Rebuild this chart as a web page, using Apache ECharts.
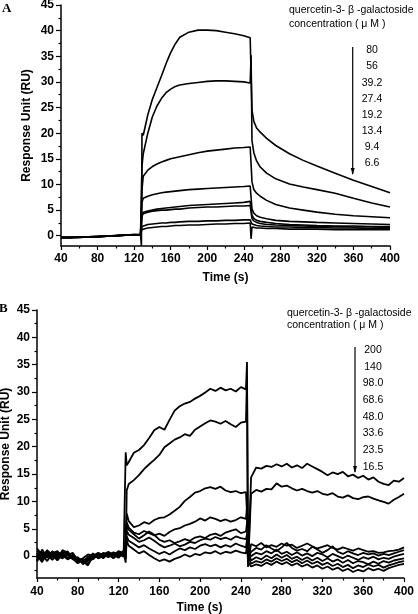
<!DOCTYPE html>
<html><head><meta charset="utf-8">
<script src="https://cdn.jsdelivr.net/npm/echarts@6/dist/echarts.min.js"></script>
<style>html,body{margin:0;padding:0;background:#fff}#c{width:418px;height:614px}</style>
</head><body><div id="c"></div>
<script>
// ---------- Panel A data ----------
const timeA = [40,50,60,70,80,90,100,110,120,127,128,128.6,130,135,140,145,150,155,160,165,170,180,190,200,210,220,230,240,247,248,249,251,254,258,265,275,290,305,320,340,360,380,400];
const a80 = [-0.4,-0.4,-0.3,-0.3,-0.2,-0.1,0.0,0.1,0.2, 0.2,-2.0,20.0, 19.6,23.6,26.6,28.9,31.2,33.6,35.7,37.4,38.7, 39.7,40.1,40.1,40.0,39.7,39.4,39.0, 38.6,38.4,24.5, 22.3,21.0,20.2,19.0,17.6, 16.0,14.7,13.6,12.2,10.8,9.6,8.4];
const a56 = [-0.3,-0.4,-0.3,-0.2,-0.2,-0.1,0.0,0.1,0.2, 0.2,0.5,13.5, 16.0,20.0,23.2,25.3,26.8,27.9,28.6,29.1,29.4, 29.7,29.9,30.1,30.2,30.2,30.1,30.0, 29.8,35.2,18.5, 16.2,14.6,13.4,12.2,11.1, 10.1,9.5,9.0,8.3,7.3,6.4,5.6];
const a39 = [-0.4,-0.3,-0.3,-0.2,-0.1,-0.1,0.0,0.1,0.2, 0.2,0.3,9.0, 11.6,12.8,13.5,14.0,14.4,14.7,15.0,15.2,15.4, 15.8,16.2,16.5,16.7,16.9,17.1,17.2, 17.3,17.0,10.5, 9.0,8.3,7.7,6.9,6.1, 5.4,5.0,4.6,4.2,3.9,3.7,3.5];
const a27 = [-0.3,-0.4,-0.2,-0.3,-0.2,0.0,0.0,0.1,0.3, 0.2,0.2,6.5, 7.3,7.7,8.0,8.2,8.4,8.5,8.6,8.7,8.8, 9.0,9.1,9.2,9.3,9.4,9.5,9.6, 9.7,9.5,5.2, 4.4,3.9,3.6,3.3,3.0, 2.8,2.7,2.6,2.5,2.4,2.3,2.2];
const a19 = [-0.4,-0.3,-0.3,-0.2,-0.1,-0.1,0.1,0.1,0.2, 0.2,0.1,4.0, 4.6,4.8,5.0,5.2,5.3,5.4,5.5,5.6,5.7, 5.9,6.0,6.1,6.2,6.3,6.4,6.5, 6.7,6.5,4.0, 3.4,3.0,2.8,2.6,2.4, 2.2,2.1,2.0,1.9,1.9,1.8,1.8];
const a13 = [-0.3,-0.3,-0.4,-0.2,-0.2,-0.1,0.0,0.2,0.2, 0.3,0.2,3.8, 4.3,4.6,4.8,4.9,5.0,5.0,5.1,5.2,5.2, 5.4,5.5,5.6,5.6,5.7,5.8,5.8, 5.9,5.8,3.3, 2.9,2.6,2.4,2.2,2.1, 2.0,1.9,1.8,1.8,1.7,1.7,1.6];
const a9  = [-0.4,-0.3,-0.3,-0.3,-0.2,-0.1,0.0,0.1,0.1, 0.2,0.1,1.8, 2.0,2.2,2.3,2.4,2.5,2.5,2.6,2.6,2.7, 2.8,2.8,2.9,2.9,3.0,3.0,3.1, 3.1,3.0,2.3, 2.1,2.0,1.9,1.8,1.7, 1.7,1.6,1.6,1.5,1.5,1.4,1.4];
const a6  = [-0.3,-0.4,-0.3,-0.2,-0.2,-0.1,0.0,0.1,0.2, 0.2,0.0,1.2, 1.4,1.5,1.6,1.7,1.8,1.8,1.9,2.0,2.0, 2.1,2.1,2.2,2.3,2.3,2.4,2.4, 2.5,-0.6,1.7, 1.6,1.5,1.5,1.4,1.4, 1.3,1.3,1.3,1.2,1.2,1.2,1.2];
const concA = ['80','56','39.2','27.4','19.2','13.4','9.4','6.6'];

// ---------- Panel B data ----------
const timeB = [40,45,50,55,60,65,70,75,80,85,90,95,100,105,110,115,120,125,127,128,130,135,140,145,150,155,160,165,170,175,180,185,190,195,200,205,210,215,220,225,230,235,240,245,246,247,250,255,260,265,270,275,280,285,290,295,300,305,310,315,320,325,330,335,340,345,350,355,360,365,370,375,380,385,390,395,400];
const b200 = [0.5,-0.6,0.9,-0.3,0.4,0.2,-0.5,0.1,-0.9,-0.4,0.3,0.0,0.6,0.2,0.8,0.1,0.9,0.5, 19.0,16.6,
  17.2,18.9,19.4,20.3,21.6,23.0,23.6,23.1,24.9,26.6,27.4,27.9,28.2,28.8,29.3,29.9,30.6,30.2,30.8,30.3,30.6,30.1,30.9,30.5, 35.5,-1.5,
  14.4,16.2,16.0,16.5,16.3,16.8,16.4,16.9,16.2,16.6,16.1,16.9,16.4,15.9,15.4,14.8,15.3,15.0,15.4,14.6,14.9,14.3,14.7,14.0,14.4,13.6,13.2,13.0,13.8,13.6,14.3];
const b140 = [-0.8,1.2,-0.2,0.6,-0.4,0.8,0.3,-0.2,-0.5,-1.2,-0.1,0.4,-0.3,0.5,0.0,0.7,0.2,0.6, -1.2,12.0,
  13.2,13.9,14.8,15.9,16.8,17.6,18.5,19.9,20.6,21.3,21.7,22.3,22.0,23.1,23.7,24.3,24.8,24.6,24.2,24.7,24.1,23.6,24.4,24.6, 33.0,-2.0,
  11.4,12.1,11.8,12.3,12.2,13.3,12.7,12.9,12.4,12.0,12.3,11.9,11.6,11.9,11.4,11.2,11.5,10.9,10.7,11.1,10.6,10.4,10.8,10.9,10.5,10.2,9.9,9.6,10.3,10.8,11.4];
const b98 = [1.0,0.2,-0.9,0.5,0.9,-0.2,0.4,-0.6,-0.3,-0.8,-0.9,0.2,0.3,-0.2,0.4,0.6,-0.2,0.9, 3.0,7.8,
  6.4,5.3,5.6,6.2,5.9,6.6,7.0,7.1,7.6,8.3,9.0,10.1,10.8,11.6,11.9,12.4,12.6,12.3,12.7,12.0,11.7,11.9,11.5,11.7, 8.0,-1.0,
  2.2,1.8,2.4,1.6,2.0,1.7,2.3,1.9,2.1,1.5,1.9,2.3,1.8,1.4,1.7,2.0,1.5,1.2,1.6,1.3,1.0,1.4,1.1,0.8,0.9,0.6,0.7,0.9,1.0,1.2,1.6];
const b68 = [-0.4,0.7,0.3,-0.7,0.2,0.5,-0.3,0.3,-1.1,-0.5,-1.4,-0.3,0.1,0.4,-0.2,0.3,0.8,0.2, 2.0,6.2,
  5.2,4.3,4.0,4.6,4.2,3.8,4.1,3.7,4.4,4.9,5.1,5.6,5.9,6.3,6.9,6.5,7.1,6.8,6.4,6.7,6.3,6.6,7.1,6.8, 9.0,-0.5,
  0.8,1.5,1.2,2.0,1.4,0.9,1.6,2.4,1.5,1.0,1.3,0.9,1.7,1.2,0.6,1.1,1.8,0.8,0.4,0.9,0.5,0.2,0.6,0.3,0.5,0.1,0.4,0.2,0.5,0.8,1.1];
const b48 = [0.2,-1.1,0.6,0.1,-0.5,1.1,0.6,-0.4,-0.2,-1.5,-0.6,0.5,-0.4,0.0,0.6,-0.3,0.4,-0.1, 1.0,5.6,
  4.8,4.0,3.2,3.8,4.5,3.9,3.0,2.6,2.9,2.4,2.7,3.1,2.8,3.4,3.6,3.3,3.9,4.1,3.7,4.3,4.6,4.9,4.2,4.5, 6.0,0.5,
  0.0,0.6,0.3,0.9,0.5,1.2,0.4,0.8,0.2,0.7,0.1,0.5,0.0,0.6,0.3,-0.2,0.4,0.0,-0.4,0.1,-0.3,-0.7,-0.2,-0.5,-0.1,-0.6,-0.3,-0.5,-0.1,0.2,0.4];
const b33 = [1.4,0.3,-0.3,0.9,0.0,-0.4,0.2,0.6,-0.7,-0.9,-0.3,-0.6,0.4,0.2,-0.1,0.5,0.1,1.0, 0.5,4.6,
  3.9,3.3,2.6,2.9,3.4,2.8,2.1,1.6,1.9,2.3,1.8,2.1,2.6,2.4,2.9,3.2,3.0,3.5,3.1,3.4,3.0,3.6,3.3,3.1, 4.0,1.0,
  -0.8,-0.2,-0.6,0.1,-0.4,0.3,-0.3,0.2,-0.5,-0.1,-0.7,-0.2,-0.8,-0.3,-0.9,-0.4,-1.0,-0.6,-1.2,-0.7,-1.3,-0.9,-1.1,-1.5,-1.0,-1.4,-0.9,-1.2,-0.8,-0.6,-0.4];
const b23 = [-1.0,0.5,0.4,-0.2,0.7,0.3,-0.6,-0.1,-0.4,-1.0,-1.7,0.1,-0.2,0.6,0.3,-0.4,0.6,0.3, 0.0,3.6,
  2.8,2.2,1.6,2.0,1.4,0.9,0.4,0.8,0.3,0.9,1.4,1.1,1.6,1.3,1.9,2.2,1.8,2.1,1.6,2.0,1.7,2.3,1.9,1.6, 3.0,0.0,
  -1.4,-0.9,-1.2,-0.6,-1.0,-0.4,-0.9,-0.5,-1.1,-0.7,-1.3,-0.8,-1.4,-1.0,-1.6,-1.2,-1.8,-1.4,-2.0,-1.6,-2.2,-1.7,-2.0,-1.5,-1.9,-1.6,-2.1,-1.7,-1.4,-1.1,-0.9];
const b16 = [0.6,-0.3,1.1,0.2,-0.8,0.4,0.9,-0.5,-1.3,-0.7,-0.5,-0.4,0.3,-0.4,0.5,0.2,-0.3,0.7, -0.5,2.8,
  1.9,1.2,0.5,0.9,0.2,-0.4,-0.9,-0.6,-1.0,-0.5,-0.2,0.3,-0.1,0.4,0.2,0.7,0.5,0.9,0.4,0.8,0.6,1.0,0.7,0.5, 2.0,-1.0,
  -1.9,-1.5,-1.8,-1.2,-1.6,-1.0,-1.5,-1.1,-1.7,-1.3,-1.9,-1.5,-2.1,-1.7,-2.3,-1.9,-2.5,-2.1,-2.7,-2.3,-2.9,-2.5,-2.8,-2.2,-2.6,-2.3,-2.7,-2.2,-1.9,-1.6,-1.4];
const concB = ['200','140','98.0','68.6','48.0','33.6','23.5','16.5'];

// ---------- tick labels ----------
const yMajorTicks = [0,5,10,15,20,25,30,35,40,45];
const yMinorTicksA = [2.5,7.5,12.5,17.5,22.5,27.5,32.5,37.5,42.5];
const yMinorTicksB = [-2.5,2.5,7.5,12.5,17.5,22.5,27.5,32.5,37.5,42.5];
const legendTitle1 = 'quercetin-3- \u03b2 -galactoside';
const legendTitle2 = 'concentration ( \u03bc M )';

const seriesA = [a80,a56,a39,a27,a19,a13,a9,a6];
const seriesB = [b200,b140,b98,b68,b48,b33,b23,b16];

const chart = echarts.init(document.getElementById('c'), null, {renderer:'canvas'});
const FONT = '"Liberation Sans", Arial, sans-serif';
const labelStyle = {color:'#000', fontWeight:'bold', fontSize:12, fontFamily:FONT};

function xAxisDef(grid, margin, gap, pad){
  return {type:'value', gridIndex:grid, min:40, max:400, interval:40,
    name:'Time (s)', nameLocation:'middle', nameGap:gap,
    nameTextStyle:Object.assign({}, labelStyle, {padding:pad}),
    axisLine:{show:true, onZero:false, lineStyle:{color:'#000', width:1.5}},
    axisTick:{show:true, inside:false, length:4, lineStyle:{color:'#000', width:1.2}},
    minorTick:{show:true, splitNumber:2, length:2.5, lineStyle:{color:'#000', width:1.2}},
    axisLabel:Object.assign({}, labelStyle, {margin:margin}),
    splitLine:{show:false}, minorSplitLine:{show:false}};
}
function yAxisMain(grid, min, gap){
  return {type:'value', gridIndex:grid, min:min, max:45,
    name:'Response Unit (RU)', nameLocation:'middle', nameGap:gap, nameMoveOverlap:false, nameTextStyle:labelStyle,
    axisLine:{show:true, onZero:false, lineStyle:{color:'#000', width:1.5}},
    axisTick:{show:true, inside:false, length:5, customValues:yMajorTicks, lineStyle:{color:'#000', width:1.2}},
    axisLabel:Object.assign({}, labelStyle, {margin:7, customValues:yMajorTicks}),
    splitLine:{show:false}};
}
function yAxisMinor(grid, min, ticks){
  return {type:'value', gridIndex:grid, min:min, max:45, position:'left',
    axisLine:{show:false, onZero:false},
    axisTick:{show:true, inside:false, length:2.5, customValues:ticks, lineStyle:{color:'#000', width:1.2}},
    axisLabel:{show:false}, splitLine:{show:false}};
}

const series = [];
seriesA.forEach((vals, k) => {
  series.push({type:'line', name:'A '+concA[k], xAxisIndex:0, yAxisIndex:0, showSymbol:false, silent:true,
    lineStyle:{color:'#000', width:1.6}, data: timeA.map((t,i)=>[t, vals[i]])});
});
seriesB.forEach((vals, k) => {
  series.push({type:'line', name:'B '+concB[k], xAxisIndex:1, yAxisIndex:2, showSymbol:false, silent:true,
    lineStyle:{color:'#000', width:1.8}, data: timeB.map((t,i)=>[t, vals[i]])});
});

const txt = (x, y, s, opt) => Object.assign({type:'text', x:x, y:y, style:Object.assign({text:s, fill:'#000', font:'10.5px '+FONT, textVerticalAlign:'middle'}, opt||{})});
const graphics = [
  txt(2, 9, 'A', {font:'bold 13px "Liberation Serif", serif'}),
  txt(-1, 309, 'B', {font:'bold 13px "Liberation Serif", serif'}),
  txt(289, 10, legendTitle1),
  txt(289, 24, legendTitle2),
  txt(287, 313, legendTitle1),
  txt(287, 325, legendTitle2),
  {type:'line', shape:{x1:352.7, y1:47, x2:352.7, y2:174}, style:{stroke:'#000', lineWidth:1.2}},
  {type:'polygon', shape:{points:[[350.7,168],[354.7,168],[352.7,175]]}, style:{fill:'#000'}},
  {type:'line', shape:{x1:355, y1:347, x2:355, y2:472}, style:{stroke:'#000', lineWidth:1.2}},
  {type:'polygon', shape:{points:[[353,466],[357,466],[355,473]]}, style:{fill:'#000'}}
];
concA.forEach((s,i) => graphics.push(txt(372, 50.5 + i*16.1, s, {textAlign:'center'})));
concB.forEach((s,i) => graphics.push(txt(373, 350 + i*16.7, s, {textAlign:'center'})));

chart.setOption({
  animation:false,
  backgroundColor:'#fff',
  grid:[
    {left:61, top:5, width:329, height:241, outerBoundsMode:'none'},
    {left:37, top:310, width:367, height:268, outerBoundsMode:'none'}
  ],
  xAxis:[xAxisDef(0, 7, 26, [0,0,0,0]), xAxisDef(1, 8, 24, [0,42,0,0])],
  yAxis:[yAxisMain(0, -2, 28), yAxisMinor(0, -2, yMinorTicksA), yAxisMain(1, -4, 25), yAxisMinor(1, -4, yMinorTicksB)],
  series: series,
  graphic: graphics
});
</script></body></html>
